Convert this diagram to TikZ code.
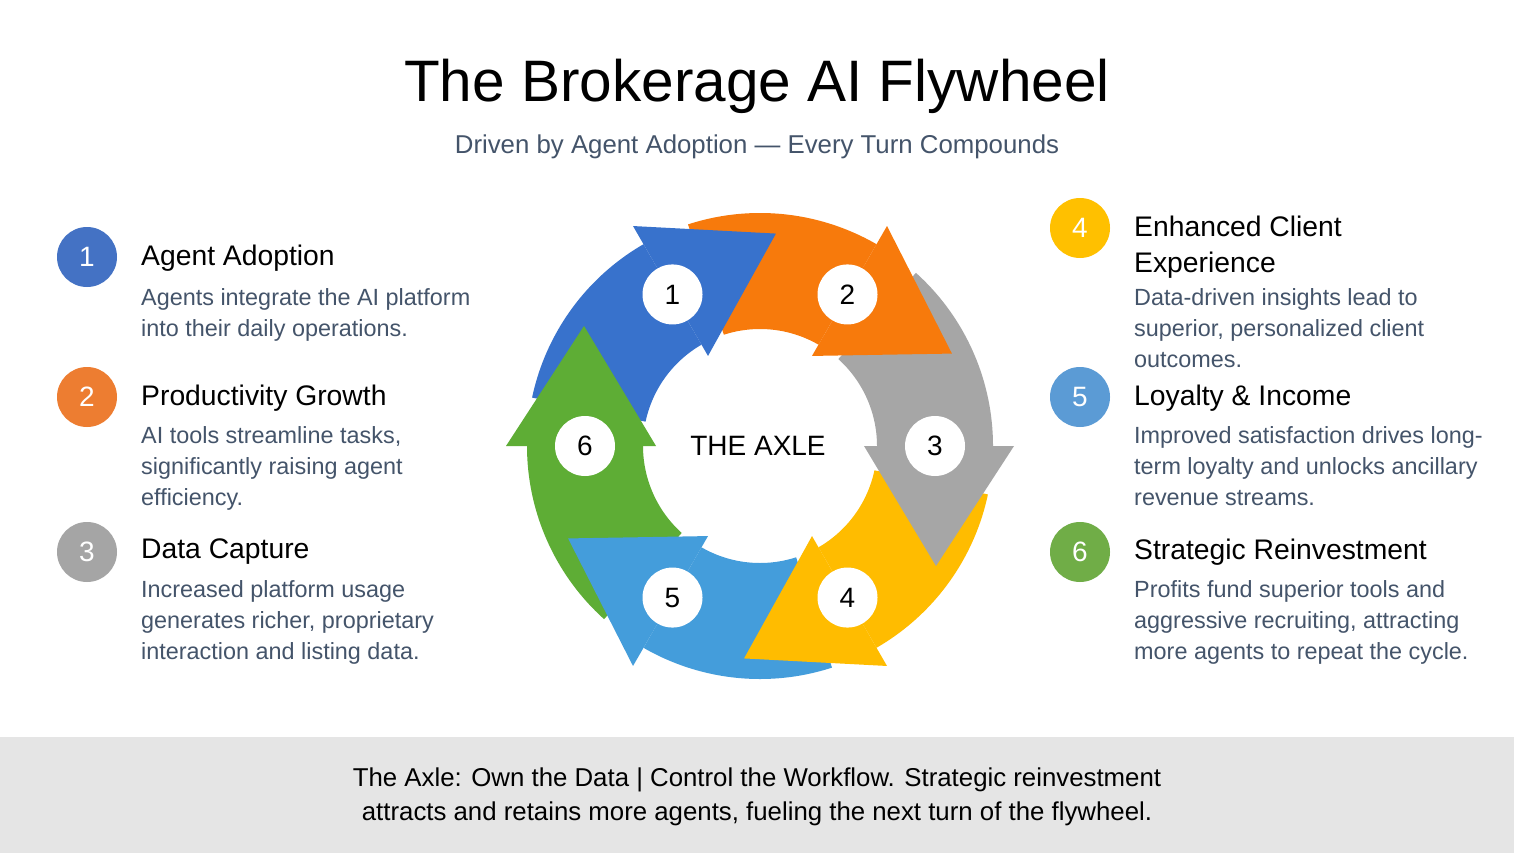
\documentclass[tikz,border=0pt]{standalone}
\usepackage{fontspec}
\setmainfont{Liberation Sans}
\usetikzlibrary{calc}
\begin{document}
\begin{tikzpicture}[x=1pt,y=1pt,
  head/.style={font=\fontsize{28.3}{32}\selectfont,text=black,anchor=west,inner sep=0},
  desc/.style={font=\fontsize{23.4}{31}\selectfont,text=desccol,anchor=north west,align=left,inner sep=0},
  icon/.style={circle,minimum size=60pt,inner sep=0,text=white,font=\fontsize{28}{32}\selectfont},
  num/.style={circle,fill=white,minimum size=60pt,inner sep=0,text=black,font=\fontsize{28}{32}\selectfont}]
\definecolor{desccol}{HTML}{44546A}
\definecolor{cA}{HTML}{3872CC}\definecolor{cB}{HTML}{F77A0C}\definecolor{cC}{HTML}{A6A6A6}
\definecolor{cD}{HTML}{FFBC00}\definecolor{cE}{HTML}{449DDB}\definecolor{cF}{HTML}{5EAD35}
\definecolor{iA}{HTML}{4472C4}\definecolor{iB}{HTML}{ED7D31}\definecolor{iC}{HTML}{A5A5A5}
\definecolor{iD}{HTML}{FFC000}\definecolor{iE}{HTML}{5B9BD5}\definecolor{iF}{HTML}{70AD47}
\useasboundingbox (0,0) rectangle (1514,-853);
\fill[white] (0,0) rectangle (1514,-853);
\fill[black!10] (0,-737) rectangle (1514,-853);
\node[font=\fontsize{58.5}{66}\selectfont] (title) at (757,-86) {The Brokerage AI Flywheel};
\node[font=\fontsize{25.8}{30}\selectfont,text=desccol] (sub) at (757,-147) {Driven by Agent Adoption — Every Turn Compounds};
\node[font=\fontsize{25.8}{34}\selectfont,align=center] (foot) at (757,-797) {The Axle: Own the Data | Control the Workflow. Strategic reinvestment\\attracts and retains more agents, fueling the next turn of the flywheel.};
% wheel
\begin{scope}[shift={(760,-446)}]
\foreach \b/\c in {120/cA,60/cB,0/cC,-60/cD,-120/cE,180/cF}{
  \fill[\c] (\b+48:233) arc[start angle=\b+48,end angle=\b,radius=233pt] -- (\b:117) arc[start angle=\b,end angle=\b+48,radius=117pt] -- cycle;
}
\foreach \b/\c in {120/cA,60/cB,0/cC,-60/cD,-120/cE,180/cF}{
  \fill[\c] (\b:104) -- (\b:254) -- ($(\b:176)+(\b-90:120)$) -- cycle;
}
\node[font=\fontsize{28}{32}\selectfont] (axle) at (-2,0) {THE AXLE};
\node[num] (n1) at (120:175) {1};
\node[num] (n2) at (60:175) {2};
\node[num] (n3) at (0:175) {3};
\node[num] (n4) at (-60:175) {4};
\node[num] (n5) at (-120:175) {5};
\node[num] (n6) at (180:175) {6};
\end{scope}
% left
\node[icon,fill=iA] (i1) at (87,-257) {1};
\node[head] (h1) at (141,-258) {Agent Adoption};
\node[desc] (d1) at (141,-288) {Agents integrate the AI platform\\into their daily operations.};
\node[icon,fill=iB] (i2) at (87,-397) {2};
\node[head] (h2) at (141,-398) {Productivity Growth};
\node[desc] (d2) at (141,-426) {AI tools streamline tasks,\\significantly raising agent\\efficiency.};
\node[icon,fill=iC] (i3) at (87,-552) {3};
\node[head] (h3) at (141,-552) {Data Capture};
\node[desc] (d3) at (141,-580) {Increased platform usage\\generates richer, proprietary\\interaction and listing data.};
% right
\node[icon,fill=iD] (i4) at (1080,-228) {4};
\node[head,anchor=north west,align=left,font=\fontsize{28.3}{36}\selectfont] (h4) at (1134,-216) {Enhanced Client\\Experience};
\node[desc] (d4) at (1134,-288) {Data-driven insights lead to\\superior, personalized client\\outcomes.};
\node[icon,fill=iE] (i5) at (1080,-397) {5};
\node[head] (h5) at (1134,-398) {Loyalty \& Income};
\node[desc] (d5) at (1134,-426) {Improved satisfaction drives long-\\term loyalty and unlocks ancillary\\revenue streams.};
\node[icon,fill=iF] (i6) at (1080,-552) {6};
\node[head] (h6) at (1134,-552) {Strategic Reinvestment};
\node[desc] (d6) at (1134,-580) {Profits fund superior tools and\\aggressive recruiting, attracting\\more agents to repeat the cycle.};
\end{tikzpicture}
\end{document}
